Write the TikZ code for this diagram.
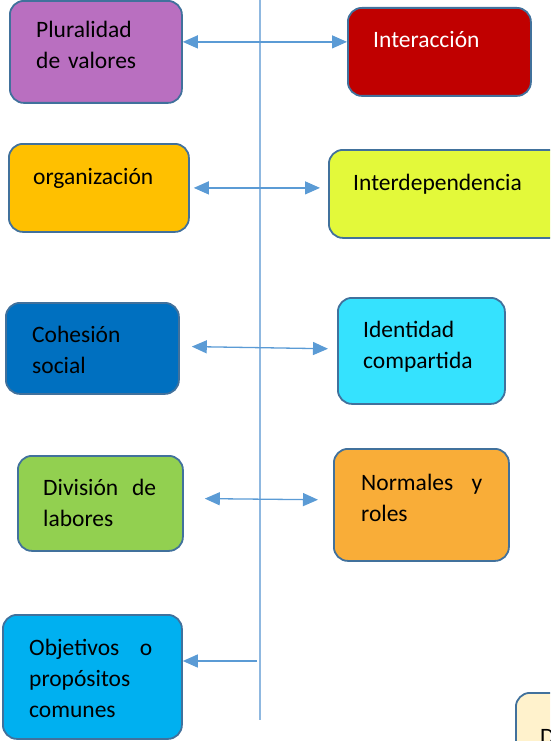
\documentclass[tikz,border=0pt]{standalone}
\usepackage{fontspec}
\setmainfont{Carlito}
\usetikzlibrary{arrows.meta}
\definecolor{borde}{HTML}{41719C}
\definecolor{flechaazul}{HTML}{5B9BD5}
\definecolor{ejeazul}{HTML}{8FB8E0}
\definecolor{morado}{HTML}{B96FC0}
\definecolor{rojo}{HTML}{C00000}
\definecolor{ambar}{HTML}{FFC000}
\definecolor{lima}{HTML}{E3F93A}
\definecolor{azul}{HTML}{0070C0}
\definecolor{cian}{HTML}{35E2FE}
\definecolor{verde}{HTML}{92D050}
\definecolor{naranja}{HTML}{F9AD38}
\definecolor{celeste}{HTML}{00B0F0}
\definecolor{crema}{HTML}{FFF2CC}
\begin{document}
\begin{tikzpicture}[x=1pt,y=-1pt,
    caja/.style={draw=borde,line width=1.8pt,rounded corners=14pt,
      anchor=north west,inner sep=0pt},
    texto/.style={anchor=base west,inner sep=0pt,align=left,
      font=\fontsize{23.5}{31}\selectfont},
    flecha/.style={color=flechaazul,line width=1.3pt,
      {Triangle[length=15pt,width=13pt]}-{Triangle[length=15pt,width=13pt]}}]
  \useasboundingbox (0,0) rectangle (550,741);
  \clip (0,0) rectangle (550,741);

  % eje central
  \coordinate (arriba) at (260,0);
  \coordinate (abajo) at (260,720);
  \draw[color=ejeazul,line width=1.2pt] (arriba) -- (abajo);

  % cajas
  \node[caja,fill=morado,minimum width=172pt,minimum height=102pt] (plur) at (9,0) {};
  \node[caja,fill=rojo,minimum width=183pt,minimum height=88pt] (inter) at (347,7) {};
  \node[caja,fill=ambar,minimum width=180pt,minimum height=88pt] (org) at (8,143) {};
  \node[caja,fill=lima,minimum width=240pt,minimum height=88pt] (interdep) at (328,149) {};
  \node[caja,fill=azul,minimum width=173pt,minimum height=91pt] (coh) at (5,302) {};
  \node[caja,fill=cian,minimum width=167pt,minimum height=106pt] (ident) at (337,297) {};
  \node[caja,fill=verde,minimum width=165pt,minimum height=95pt] (div) at (17,455) {};
  \node[caja,fill=naranja,minimum width=175pt,minimum height=112pt] (norm) at (333,448) {};
  \node[caja,fill=celeste,minimum width=179pt,minimum height=124pt] (obj) at (2,614) {};
  \node[caja,fill=crema,minimum width=80pt,minimum height=80pt] (extra) at (515,692) {};

  % textos
  \node[texto,text width=130pt] (tplur) at (36,38) {Pluralidad\\de valores};
  \node[texto,text=white] (tinter) at (373,48) {Interacción};
  \node[texto] (torg) at (33,184) {organización};
  \node[texto] (tinterdep) at (353,190) {Interdependencia};
  \node[texto,text width=130pt] (tcoh) at (32,342) {Cohesión\\social};
  \node[texto,text width=130pt] (tident) at (363,337) {Identidad\\compartida};
  \node[texto,text width=113pt] (tdiv) at (43,495) {División\hfill de\\labores};
  \node[texto,text width=121pt] (tnorm) at (361,490) {Normales\hfill y\\roles};
  \node[texto,text width=123pt] (tobj) at (29,655) {Objetivos\hfill o\\propósitos\\comunes};
  \node[texto] (textra) at (540,744) {D};

  % flechas
  \draw[flecha] ([yshift=10pt]plur.east) -- ([yshift=10pt]plur.east -| inter.west);
  \draw[flecha,shorten <=4pt,shorten >=8pt] (org.east) -- (org.east -| interdep.west);
  \draw[flecha,shorten <=12pt,shorten >=9pt] ([yshift=2pt]coh.east) -- ([yshift=2pt]ident.west);
  \draw[flecha,shorten <=21pt,shorten >=15pt] ([yshift=5pt]div.east) -- ([yshift=5pt]norm.west);
  \coordinate (eje) at (257,661);
  \draw[flecha,-{Triangle[length=15pt,width=13pt]}] (eje) -- (eje -| obj.east);
\end{tikzpicture}
\end{document}
